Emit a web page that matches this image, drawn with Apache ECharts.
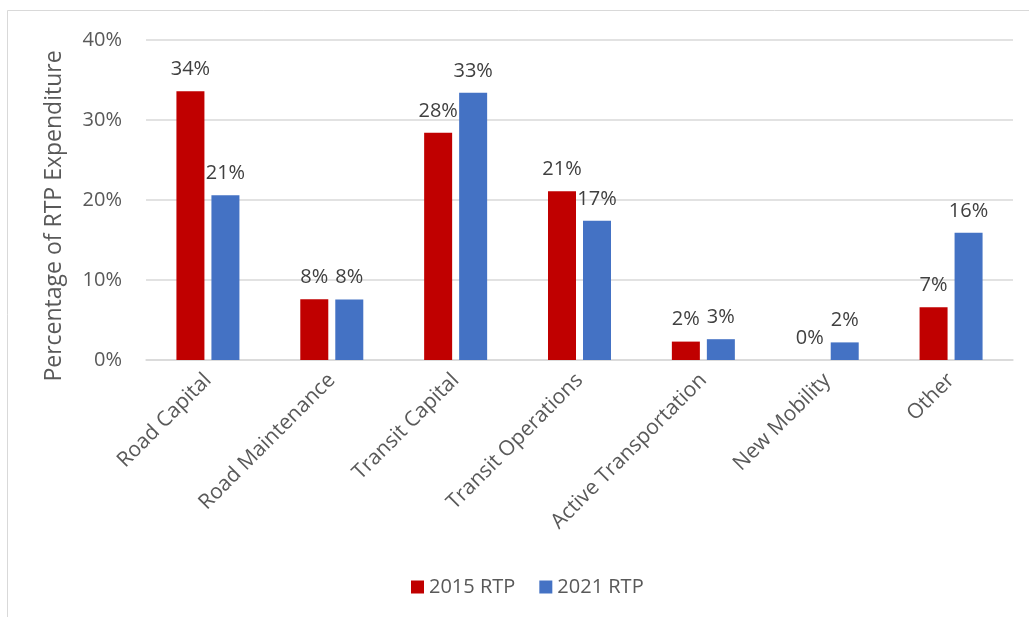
<!DOCTYPE html>
<html>
<head>
<meta charset="utf-8">
<script src="https://cdn.jsdelivr.net/npm/echarts@6/dist/echarts.min.js"></script>
<style>html,body{margin:0;padding:0;background:#fff;}#c{width:1029px;height:617px;}</style>
</head>
<body>
<div id="c"></div>
<script>
const categories = ["Road Capital","Road Maintenance","Transit Capital","Transit Operations","Active Transportation","New Mobility","Other"];
const rtp2015 = [33.6, 7.6, 28.4, 21.1, 2.3, 0, 6.6];
const rtp2021 = [20.6, 7.55, 33.4, 17.4, 2.6, 2.2, 15.9];
const seriesNames = ["2015 RTP","2021 RTP"];
const yTicks = [0, 10, 20, 30, 40];

const FONT = '"Open Sans", sans-serif';
const chart = echarts.init(document.getElementById('c'), null, {renderer:'canvas'});
const labelCfg = {
  show: true, position: 'top', distance: 12,
  fontFamily: FONT, fontSize: 20, color: '#404040',
  formatter: p => Math.round(p.value) + '%'
};
chart.setOption({
  animation: false,
  backgroundColor: '#fff',
  graphic: [{
    type: 'rect', shape: {x: 7.5, y: 10.5, width: 1100, height: 700},
    style: {fill: 'none', stroke: '#d9d9d9', lineWidth: 1}, silent: true
  }],
  legend: {
    data: seriesNames, top: 572, left: 406,
    itemWidth: 13, itemHeight: 13, itemGap: 24,
    textStyle: {fontFamily: FONT, fontSize: 20, color: '#595959'},
    icon: 'rect'
  },
  grid: {left: 146, right: 16, top: 40, bottom: 257, containLabel: false},
  xAxis: {
    type: 'category', data: categories,
    axisLine: {show: true, lineStyle: {color: '#d9d9d9', width: 1.5}},
    axisTick: {show: false},
    axisLabel: {rotate: 45, interval: 0, margin: 17, fontFamily: FONT, fontSize: 21, color: '#595959'}
  },
  yAxis: {
    type: 'value', min: yTicks[0], max: yTicks[yTicks.length-1], interval: 10,
    name: 'Percentage of RTP Expenditure', nameLocation: 'middle', nameGap: 80,
    nameTextStyle: {fontFamily: FONT, fontSize: 23, color: '#595959', padding: [0, 32, 0, 0]},
    axisLine: {show: false}, axisTick: {show: false},
    axisLabel: {margin: 24, fontFamily: FONT, fontSize: 20, color: '#595959', formatter: v => v + '%'},
    splitLine: {lineStyle: {color: '#d9d9d9', width: 1.5}}
  },
  series: [
    {name: seriesNames[0], type: 'bar', data: rtp2015, barWidth: 28, barGap: '25%',
     itemStyle: {color: '#C00000'}, label: labelCfg},
    {name: seriesNames[1], type: 'bar', data: rtp2021, barWidth: 28, barGap: '25%',
     itemStyle: {color: '#4472C4'}, label: labelCfg}
  ]
});
</script>
</body>
</html>
